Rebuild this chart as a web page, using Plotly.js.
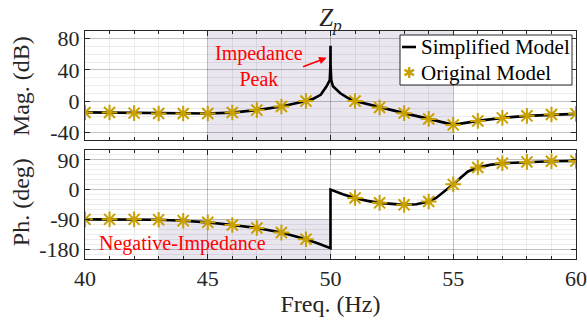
<!DOCTYPE html>
<html>
<head>
<meta charset="utf-8">
<script src="https://cdn.plot.ly/plotly-3.0.1.min.js"></script>
<style>html,body{margin:0;padding:0;background:#fff;}#chart{width:587px;height:324px;}</style>
</head>
<body>
<div id="chart"></div>
<script>
// ---- data ----
var freqMarkers = [40,41,42,43,44,45,46,47,48,49,51,52,53,54,55,56,57,58,59,60];
var magOriginal = [-14.7,-14.7,-15.5,-16,-16,-16,-14.7,-11.6,-7,0,0,-8.2,-15.5,-22.9,-30.6,-25.5,-21.6,-19,-17.3,-16.4];
var phOriginal  = [-90,-90,-90,-91,-94,-99,-107,-116,-130,-150,-25,-40,-46,-36,16,67,80,84,86,87];

var freqMagLine = [40,41,42,43,44,45,46,47,48,48.5,49,49.3,49.6,49.84,49.97,49.995,50,50.005,50.03,50.1,50.4,50.7,51,52,53,54,55,56,57,58,59,60];
var magSimplified = [-14.5,-14.7,-15.3,-15.8,-16,-16,-14.8,-11.6,-7,-3.8,0,3,8,19,27,45,71,45,27,19,10,4,0,-8.2,-15.5,-22.9,-30.6,-25.5,-21.6,-19,-17.3,-16.4];

var freqPhLine = [40,41,42,43,44,45,46,47,48,48.5,49,49.5,50,50,50.5,51,51.5,52,52.5,53,53.5,54,54.3,54.6,55,55.3,55.6,56,56.5,57,58,59,60];
var phSimplified = [-90,-90,-90,-91,-94,-99,-107,-116,-130,-140,-150,-163,-177,0,-14,-25,-34,-40,-44,-46,-44,-36,-25,-8,16,36,55,67,75,80,84,86,87];

var xTicks = [40,45,50,55,60];
var magTicks = [-40,0,40,80];
var phTicks = [-180,-90,0,90];
var legendNames = ['Simplified Model','Original Model'];

var magRange = [-50,90];
var phRange = [-210,120];

var gold = 'rgb(200,160,0)';
var txt = '#262626';
var serif = '"Liberation Serif", "Times New Roman", Times, serif';

var traces = [
  {x: freqMagLine, y: magSimplified, xaxis:'x', yaxis:'y', mode:'lines', name:legendNames[0],
   line:{color:'#000', width:2.6}},
  {x: freqMarkers, y: magOriginal, xaxis:'x', yaxis:'y', mode:'markers', name:legendNames[1],
   marker:{symbol:'asterisk-open', size:13, color:gold, line:{color:gold, width:2}}},
  {x: freqPhLine, y: phSimplified, xaxis:'x2', yaxis:'y2', mode:'lines', name:legendNames[0],
   line:{color:'#000', width:2.6}},
  {x: freqMarkers, y: phOriginal, xaxis:'x2', yaxis:'y2', mode:'markers', name:legendNames[1],
   marker:{symbol:'asterisk-open', size:13, color:gold, line:{color:gold, width:2}}}
];

function xax(showLabels, anchor, extra){
  var a = {
    range:[40,60], tickvals:xTicks, ticktext:xTicks.map(String), showticklabels:showLabels,
    ticks:'inside', ticklen:5, tickcolor:txt, showline:true, linecolor:txt, linewidth:1, mirror:'ticks',
    showgrid:true, gridcolor:'rgba(0,0,0,0.18)', gridwidth:1, zeroline:false, anchor:anchor,
    minor:{dtick:1, ticks:'inside', ticklen:3, tickcolor:txt, showgrid:true, gridcolor:'rgba(0,0,0,0.07)'},
    tickfont:{family:serif, size:22, color:txt}
  };
  for (var k in extra) a[k]=extra[k];
  return a;
}
function yax(range, ticks, dom, anchor, minorStep){
  return {
    range:range, tickvals:ticks, ticktext:ticks.map(String), domain:dom, anchor:anchor,
    ticks:'inside', ticklen:5, tickcolor:txt, showline:true, linecolor:txt, linewidth:1, mirror:'ticks',
    showgrid:true, gridcolor:'rgba(0,0,0,0.18)', zeroline:false,
    minor:{dtick:minorStep, tick0:0, showgrid:true, gridcolor:'rgba(0,0,0,0.07)'},
    tickfont:{family:serif, size:22, color:txt}
  };
}
// paper-coordinate helpers for the hand-built legend box (pixel -> paper)
function px(x){ return (x-85)/491; }
function py(y){ return (259-y)/228; }

var layout = {
  width:587, height:324,
  margin:{l:85, r:11, t:31, b:65},
  paper_bgcolor:'#fff', plot_bgcolor:'#fff',
  font:{family:serif, color:txt},
  showlegend:false,
  title:{text:'<i>Z</i><sub><i>p</i></sub>', font:{family:serif, size:25, color:txt},
         x:0.5, xref:'paper', xanchor:'center', y:1-17/324, yref:'container', yanchor:'middle'},
  xaxis: xax(false, 'y', {}),
  yaxis: yax(magRange, magTicks, [0.522,1], 'x', 10),
  xaxis2: xax(true, 'y2', {title:{text:'Freq. (Hz)', font:{family:serif, size:24, color:txt}, standoff:4}}),
  yaxis2: yax(phRange, phTicks, [0,0.478], 'x2', 15),
  shapes:[
    {type:'rect', xref:'x', yref:'y domain', x0:45, x1:55, y0:0, y1:1, layer:'below',
     fillcolor:'rgb(233,230,239)', line:{width:0}},
    {type:'rect', xref:'x2', yref:'y2', x0:43, x1:50, y0:phRange[0], y1:-90, layer:'below',
     fillcolor:'rgb(233,230,239)', line:{width:0}},
    // legend box
    {type:'rect', xref:'paper', yref:'paper', x0:px(400), x1:px(572), y0:py(85), y1:py(35),
     fillcolor:'#fff', line:{color:txt, width:1}, layer:'above'},
    {type:'line', xref:'paper', yref:'paper', x0:px(402), x1:px(416), y0:py(47), y1:py(47),
     line:{color:'#000', width:2.6}, layer:'above'}
  ],
  annotations:[
    {text:'Mag. (dB)', xref:'paper', yref:'paper', x:-0.13, y:0.759, textangle:-90, showarrow:false,
     xanchor:'center', yanchor:'middle', font:{family:serif, size:24, color:txt}},
    {text:'Ph. (deg)', xref:'paper', yref:'paper', x:-0.13, y:0.25, textangle:-90, showarrow:false,
     xanchor:'center', yanchor:'middle', font:{family:serif, size:24, color:txt}},
    {text:'Impedance<br>Peak', xref:'x', yref:'y', x:47.09, y:45.6, showarrow:false,
     font:{family:serif, size:20, color:'#ff0000'}, align:'center'},
    {text:' ', xref:'x', yref:'y', x:49.84, y:55.6, axref:'x', ayref:'y', ax:48.76, ay:42.6,
     showarrow:true, arrowhead:2, arrowsize:1, arrowwidth:1.5, arrowcolor:'#ff0000', standoff:0},
    {text:'Negative-Impedance', xref:'x2', yref:'y2', x:43.99, y:-162, showarrow:false,
     font:{family:serif, size:20, color:'#ff0000'}},
    // legend entries
    {text:legendNames[0], xref:'paper', yref:'paper', x:px(419), y:py(47), xanchor:'left', yanchor:'middle',
     showarrow:false, font:{family:serif, size:21, color:'#000'}},
    {text:legendNames[1], xref:'paper', yref:'paper', x:px(419), y:py(73), xanchor:'left', yanchor:'middle',
     showarrow:false, font:{family:serif, size:21, color:'#000'}},
    {text:'\u2731', xref:'paper', yref:'paper', x:px(409), y:py(73), xanchor:'center', yanchor:'middle',
     showarrow:false, font:{family:'DejaVu Sans', size:15, color:gold}}
  ]
};

Plotly.newPlot('chart', traces, layout, {staticPlot:true, displayModeBar:false});
</script>
</body>
</html>
